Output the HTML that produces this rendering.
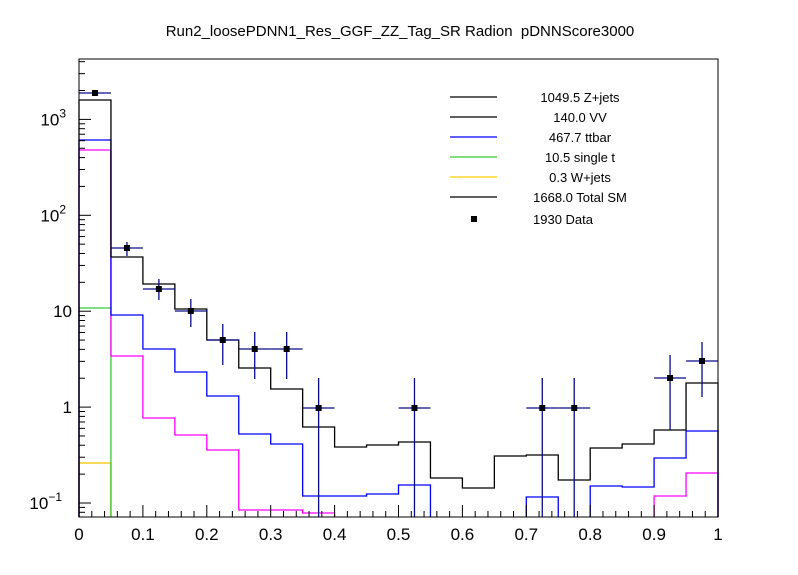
<!DOCTYPE html>
<html><head><meta charset="utf-8"><style>
body{margin:0;background:#fff}
svg{display:block;font-family:"Liberation Sans",sans-serif}
</style></head><body>
<svg id="s" width="798" height="575" xmlns="http://www.w3.org/2000/svg">
<rect width="798" height="575" fill="#fff"/>
<text x="400" y="36" font-size="15" text-anchor="middle" style="white-space:pre">Run2_loosePDNN1_Res_GGF_ZZ_Tag_SR Radion  pDNNScore3000</text>
</svg>
<script>
const s=document.getElementById('s');const NS='http://www.w3.org/2000/svg';
function el(t,a,txt){const e=document.createElementNS(NS,t);for(const k in a)e.setAttribute(k,a[k]);if(txt!==undefined)e.textContent=txt;s.appendChild(e);return e;}
const L=79,R=718,T=59,B=517,bw=(R-L)/20;
const X=i=>L+bw*i;
function hist(vals,col){let d='';let started=false;for(let i=0;i<20;i++){const v=vals[i];if(v==null){started=false;continue;}
 const y=Math.min(v,B);
 if(!started){d+=`M${X(i)},${B}L${X(i)},${y}`;started=true;}else d+=`L${X(i)},${y}`;
 d+=`L${X(i+1)},${y}`;
 if(i==19||vals[i+1]==null){d+=`L${X(i+1)},${B}`;started=false;}}
 el('path',{d,fill:'none',stroke:col,'stroke-width':1.3});}
hist([463],'#bbbbbb');
hist([463],'#ffcc00');
hist([308],'#33cc33');
hist([150,356,418,435,450,510,510,513,null,null,null,null,null,null,null,null,null,null,496,473],'#ff00ff');
hist([140,315,349,372,396,434,444,496,496,494,485,null,null,null,497,null,486,487,458,431],'#0000ff');
hist([100,257,284,309,340,368,389,427,447,445,442,478,488,456,455,480,448,444,430,383],'#000000');
const pts=[[0,93,90,96],[1,248,242,256],[2,289,279,300],[3,311,299,327],[4,340,324,365],[5,349,332,379],[6,349,332,379],[7,408,378,517],[10,408,378,517],[14,408,378,517],[15,408,378,517],[18,378,355,430],[19,361,342,397]];
for(const [i,y,a,b] of pts){const cx=X(i)+bw/2;
 el('line',{x1:X(i),x2:X(i+1),y1:y,y2:y,stroke:'#0a0a8a','stroke-width':1.3});
 el('line',{x1:cx,x2:cx,y1:a,y2:b,stroke:'#0a0a8a','stroke-width':1.3});
 el('rect',{x:cx-3,y:y-3,width:6,height:6,fill:'#000'});}
el('rect',{x:L,y:T,width:R-L,height:B-T,fill:'none',stroke:'#000','stroke-width':1});
for(let k=0;k<=50;k++){const x=L+(R-L)*k/50;const len=k%5==0?12:6;el('line',{x1:x,x2:x,y1:B,y2:B-len,stroke:'#000','stroke-width':1});}
const xl=['0','0.1','0.2','0.3','0.4','0.5','0.6','0.7','0.8','0.9','1'];
xl.forEach((t,k)=>el('text',{x:L+(R-L)*k/10,y:540,'font-size':17,'text-anchor':'middle'},t));
const yd=p=>503-(p+1)*95.9;
for(let p=-2;p<=3;p++){for(let m=1;m<10;m++){const y=yd(p+Math.log10(m));if(y<T||y>B)continue;el('line',{x1:L,x2:L+(m==1?12:6),y1:y,y2:y,stroke:'#000','stroke-width':1});}}
function ylab(y,base,sup){const t=el('text',{x:sup?66:72,y:y+6,'font-size':17,'text-anchor':'end'},base);
 if(sup){const ts=document.createElementNS(NS,'tspan');ts.setAttribute('dy','-8');ts.setAttribute('font-size','12');ts.textContent=sup;t.appendChild(ts);t.setAttribute('x',sup.length>1?62:66);}}
ylab(yd(3),'10','3');ylab(yd(2),'10','2');ylab(yd(1),'10');ylab(yd(0),'1');ylab(yd(-1),'10','−1');
const leg=[['1049.5 Z+jets','#000'],['140.0 VV','#000'],['467.7 ttbar','#0000ff'],['10.5 single t','#33cc33'],['0.3 W+jets','#ffcc00'],['1668.0 Total SM','#000']];
leg.forEach(([t,c],i)=>{const y=97+20*i;el('line',{x1:450,x2:497,y1:y,y2:y,stroke:c,'stroke-width':1.3});el('text',{x:580,y:y+5,'font-size':13,'text-anchor':'middle'},t);});
el('rect',{x:471,y:216,width:6,height:6,fill:'#000'});
el('text',{x:563,y:224,'font-size':13,'text-anchor':'middle'},'1930 Data');
</script>
</body></html>
